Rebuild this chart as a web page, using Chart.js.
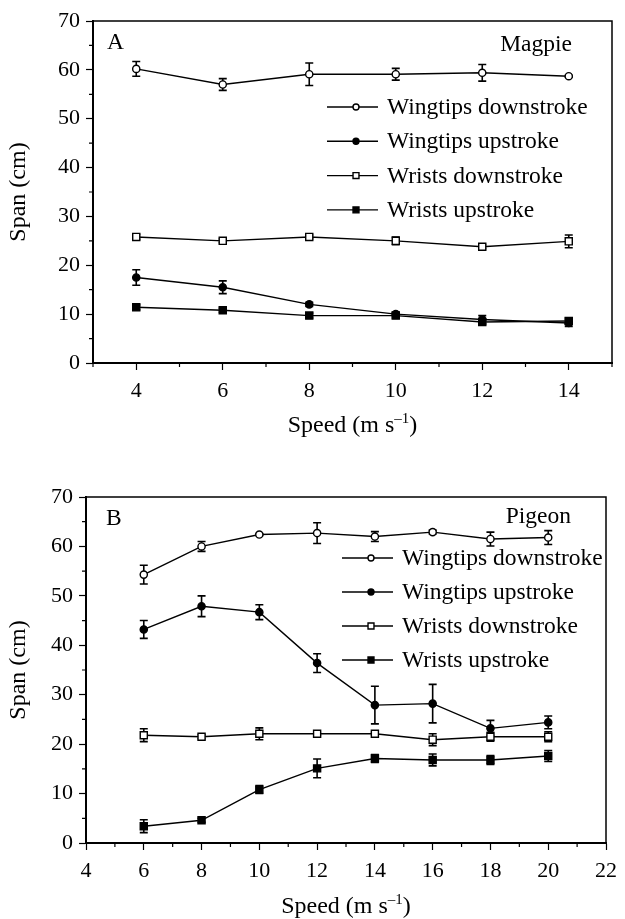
<!DOCTYPE html>
<html>
<head>
<meta charset="utf-8">
<script src="https://cdn.jsdelivr.net/npm/chart.js@4.4.1/dist/chart.umd.min.js"></script>
<style>
  html, body { margin: 0; padding: 0; background: #fff; }
  #wrap { position: relative; width: 625px; height: 919px; }
  canvas { position: absolute; left: 0; }
  #chart-a { top: 0; }
  #chart-b { top: 440px; }
</style>
</head>
<body>
<div id="wrap">
  <canvas id="chart-a" width="625" height="440"></canvas>
  <canvas id="chart-b" width="625" height="479"></canvas>
</div>
<script>
const seriesNames = ['Wingtips downstroke', 'Wingtips upstroke', 'Wrists downstroke', 'Wrists upstroke'];
const spanTicks = [0, 10, 20, 30, 40, 50, 60, 70];

// Magpie (panel A)
const magpieSpeed = [4, 6, 8, 10, 12, 14];
const magpieXTicks = [4, 6, 8, 10, 12, 14];
const magpieTipDown = [60.2, 57.0, 59.1, 59.1, 59.4, 58.7];
const magpieTipDownErr = [1.5, 1.2, 2.3, 1.2, 1.7, 0.2];
const magpieTipUp = [17.5, 15.5, 12.0, 10.0, 8.9, 8.2];
const magpieTipUpErr = [1.6, 1.3, 0.4, 0.4, 0.8, 0.7];
const magpieWristDown = [25.8, 25.0, 25.8, 25.0, 23.8, 24.9];
const magpieWristDownErr = [0.5, 0.4, 0.4, 0.8, 0.4, 1.3];
const magpieWristUp = [11.4, 10.8, 9.7, 9.7, 8.4, 8.6];
const magpieWristUpErr = [0.5, 0.4, 0.5, 0.5, 0.5, 0.6];

// Pigeon (panel B)
const pigeonSpeed = [6, 8, 10, 12, 14, 16, 18, 20];
const pigeonXTicks = [4, 6, 8, 10, 12, 14, 16, 18, 20, 22];
const pigeonTipDown = [54.3, 60.0, 62.4, 62.7, 62.0, 62.9, 61.5, 61.8];
const pigeonTipDownErr = [1.9, 1.0, 0.2, 2.1, 1.0, 0.4, 1.4, 1.4];
const pigeonTipUp = [43.2, 47.9, 46.7, 36.4, 27.9, 28.2, 23.2, 24.4];
const pigeonTipUpErr = [1.8, 2.1, 1.5, 1.9, 3.8, 3.9, 1.6, 1.3];
const pigeonWristDown = [21.8, 21.5, 22.1, 22.1, 22.1, 20.9, 21.5, 21.5];
const pigeonWristDownErr = [1.3, 0.4, 1.2, 0.3, 0.3, 1.2, 0.9, 1.0];
const pigeonWristUp = [3.4, 4.6, 10.8, 15.1, 17.1, 16.8, 16.8, 17.6];
const pigeonWristUpErr = [1.3, 0.4, 0.8, 1.9, 0.8, 1.2, 0.9, 1.1];

const FONT = '"Liberation Serif", "Times New Roman", serif';
const markers = [
  { pointStyle: 'circle', radius: 3.6, fill: '#fff' },
  { pointStyle: 'circle', radius: 3.6, fill: '#000' },
  { pointStyle: 'rect', radius: 5, fill: '#fff' },
  { pointStyle: 'rect', radius: 5, fill: '#000' }
];

function makeDataset(i, xs, ys, errs) {
  const m = markers[i];
  return {
    label: seriesNames[i],
    data: xs.map((x, k) => ({ x: x, y: ys[k] })),
    errors: errs,
    borderColor: '#000',
    borderWidth: 1.4,
    pointStyle: m.pointStyle,
    pointRadius: m.radius,
    pointBackgroundColor: m.fill,
    pointBorderColor: '#000',
    pointBorderWidth: 1.4,
    tension: 0
  };
}

// error bars, frame, minor ticks, legend, labels
const decorPlugin = {
  id: 'decor',
  beforeDatasetsDraw(chart) {
    const ctx = chart.ctx;
    const y = chart.scales.y;
    ctx.save();
    ctx.strokeStyle = '#000';
    ctx.lineWidth = 1.6;
    chart.data.datasets.forEach((ds, i) => {
      const meta = chart.getDatasetMeta(i);
      ds.data.forEach((p, k) => {
        const e = ds.errors[k];
        if (!e) return;
        const px = meta.data[k].x;
        const top = y.getPixelForValue(p.y + e);
        const bot = y.getPixelForValue(p.y - e);
        ctx.beginPath();
        ctx.moveTo(px, top); ctx.lineTo(px, bot);
        ctx.moveTo(px - 4, top); ctx.lineTo(px + 4, top);
        ctx.moveTo(px - 4, bot); ctx.lineTo(px + 4, bot);
        ctx.stroke();
      });
    });
    ctx.restore();
  },
  afterDraw(chart, args, opts) {
    const ctx = chart.ctx;
    const a = chart.chartArea;
    const xs = chart.scales.x, ys = chart.scales.y;
    ctx.save();
    ctx.strokeStyle = '#000';
    // frame
    ctx.lineWidth = 1.5;
    ctx.strokeRect(a.left, a.top, a.right - a.left, a.bottom - a.top);
    // minor ticks
    ctx.lineWidth = 1.2;
    ctx.beginPath();
    for (let v = ys.min + 5; v < ys.max; v += 10) {
      const py = ys.getPixelForValue(v);
      ctx.moveTo(a.left - 4, py); ctx.lineTo(a.left, py);
    }
    for (let v = xs.min; v <= xs.max; v += opts.xMinor) {
      if (opts.xMajor.includes(v)) continue;
      const px = xs.getPixelForValue(v);
      ctx.moveTo(px, a.bottom); ctx.lineTo(px, a.bottom + 4);
    }
    ctx.stroke();
    // x axis title with superscript
    ctx.fillStyle = '#000';
    ctx.textBaseline = 'alphabetic';
    const big = '24px ' + FONT, small = '15px ' + FONT;
    const t1 = 'Speed (m s', t2 = '\u20131', t3 = ')';
    ctx.font = small;
    const w2 = ctx.measureText(t2).width;
    ctx.font = big;
    const w1 = ctx.measureText(t1).width, w3 = ctx.measureText(t3).width;
    let tx = (a.left + a.right) / 2 - (w1 + w2 + w3) / 2;
    const ty = opts.titleY;
    ctx.fillText(t1, tx, ty); tx += w1;
    ctx.font = small;
    ctx.fillText(t2, tx, ty - 9); tx += w2;
    ctx.font = big;
    ctx.fillText(t3, tx, ty);
    // panel labels
    ctx.font = '23.5px ' + FONT;
    ctx.textBaseline = 'middle';
    ctx.textAlign = 'left';
    ctx.fillText(opts.letter, opts.letterX, opts.letterY);
    ctx.textAlign = 'right';
    ctx.fillText(opts.bird, opts.birdX, opts.birdY);
    // legend
    ctx.textAlign = 'left';
    chart.data.datasets.forEach((ds, i) => {
      const ly = opts.legendY + i * opts.legendGap;
      const lx = opts.legendX;
      ctx.lineWidth = 1.4;
      ctx.strokeStyle = '#000';
      ctx.beginPath();
      ctx.moveTo(lx, ly); ctx.lineTo(lx + 51, ly);
      ctx.stroke();
      ctx.fillStyle = ds.pointBackgroundColor;
      Chart.helpers.drawPoint(ctx, {
        pointStyle: ds.pointStyle,
        radius: ds.pointStyle === 'rect' ? 4.2 : 3,
        rotation: 0,
        borderWidth: 1.2
      }, lx + 29, ly);
      ctx.fillStyle = '#000';
      ctx.fillText(ds.label, lx + 60, ly + 1);
    });
    ctx.restore();
  }
};

function makeChart(id, cfg) {
  const canvas = document.getElementById(id);
  const H = canvas.height;
  return new Chart(canvas, {
    type: 'line',
    data: { datasets: cfg.datasets },
    plugins: [decorPlugin],
    options: {
      responsive: false,
      animation: false,
      layout: { padding: { top: cfg.top, right: cfg.right, left: 0, bottom: 0 } },
      plugins: {
        legend: { display: false },
        tooltip: { enabled: false },
        decor: cfg.decor
      },
      scales: {
        x: {
          type: 'linear',
          min: cfg.xMin, max: cfg.xMax,
          afterBuildTicks: s => { s.ticks = cfg.xTicks.map(v => ({ value: v })); },
          afterFit: s => { s.height = H - cfg.bottom; },
          border: { color: '#000', width: 2 },
          grid: { drawOnChartArea: false, color: '#000', tickLength: 7, tickWidth: 1.2 },
          ticks: { color: '#000', font: { family: FONT, size: 22 }, padding: 8, autoSkip: false, maxRotation: 0 }
        },
        y: {
          min: 0, max: 70,
          afterBuildTicks: s => { s.ticks = spanTicks.map(v => ({ value: v })); },
          afterFit: s => { s.width = cfg.left; },
          border: { color: '#000', width: 2 },
          grid: { drawOnChartArea: false, color: '#000', tickLength: 7, tickWidth: 1.2 },
          ticks: { color: '#000', font: { family: FONT, size: 22 }, padding: 6 },
          title: { display: true, text: 'Span (cm)', color: '#000', font: { family: FONT, size: 24 }, padding: { top: 4, bottom: 0 } }
        }
      }
    }
  });
}

makeChart('chart-a', {
  datasets: [
    makeDataset(0, magpieSpeed, magpieTipDown, magpieTipDownErr),
    makeDataset(1, magpieSpeed, magpieTipUp, magpieTipUpErr),
    makeDataset(2, magpieSpeed, magpieWristDown, magpieWristDownErr),
    makeDataset(3, magpieSpeed, magpieWristUp, magpieWristUpErr)
  ],
  xMin: 3, xMax: 15, xTicks: magpieXTicks,
  top: 21, right: 13, left: 93, bottom: 363,
  decor: {
    xMinor: 1, xMajor: magpieXTicks, titleY: 432,
    letter: 'A', letterX: 107, letterY: 43,
    bird: 'Magpie', birdX: 572, birdY: 45,
    legendX: 327, legendY: 107, legendGap: 34.3
  }
});

makeChart('chart-b', {
  datasets: [
    makeDataset(0, pigeonSpeed, pigeonTipDown, pigeonTipDownErr),
    makeDataset(1, pigeonSpeed, pigeonTipUp, pigeonTipUpErr),
    makeDataset(2, pigeonSpeed, pigeonWristDown, pigeonWristDownErr),
    makeDataset(3, pigeonSpeed, pigeonWristUp, pigeonWristUpErr)
  ],
  xMin: 4, xMax: 22, xTicks: pigeonXTicks,
  top: 57, right: 12, left: 86, bottom: 403,
  decor: {
    xMinor: 1, xMajor: pigeonXTicks, titleY: 473,
    letter: 'B', letterX: 106, letterY: 79,
    bird: 'Pigeon', birdX: 571, birdY: 77,
    legendX: 342, legendY: 118, legendGap: 34
  }
});
</script>
</body>
</html>
